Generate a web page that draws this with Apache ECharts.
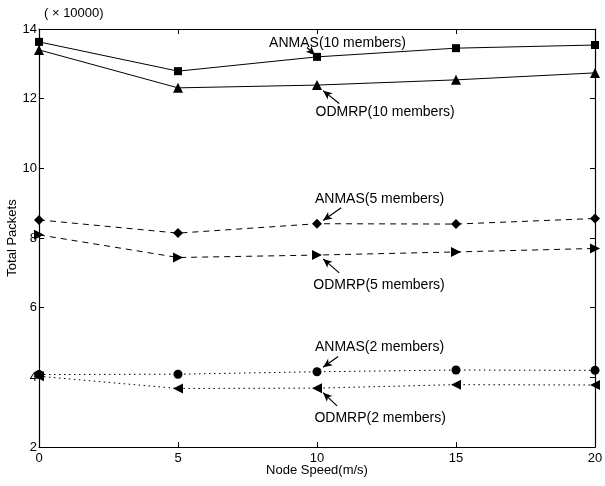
<!DOCTYPE html>
<html><head><meta charset="utf-8">
<script src="https://cdn.jsdelivr.net/npm/echarts@6/dist/echarts.min.js"></script>
<style>html,body{margin:0;padding:0;background:#fff}#c{width:605px;height:486px}</style>
</head><body><div id="c"></div>
<script>
const speeds = [0, 5, 10, 15, 20];
const anmas10 = [13.63, 12.79, 13.20, 13.45, 13.54];
const odmrp10 = [13.40, 12.31, 12.39, 12.54, 12.74];
const anmas5 = [8.52, 8.14, 8.41, 8.40, 8.56];
const odmrp5 = [8.09, 7.44, 7.51, 7.60, 7.70];
const anmas2 = [4.08, 4.09, 4.16, 4.21, 4.20];
const odmrp2 = [4.03, 3.68, 3.69, 3.79, 3.78];
const yTicks = [2, 4, 6, 8, 10, 12, 14];
const xTicks = [0, 5, 10, 15, 20];
// annotation label [text, x, y] and arrow [x1,y1,x2,y2] in data units
const notes = [
  ['ANMAS(10 members)', 10.74, 13.60, [9.64, 13.47, 9.93, 13.25]],
  ['ODMRP(10 members)', 12.45, 11.62, [10.80, 11.86, 10.22, 12.23]],
  ['ANMAS(5 members)', 12.25, 9.12, [10.87, 8.87, 10.22, 8.50]],
  ['ODMRP(5 members)', 12.23, 6.65, [10.80, 7.00, 10.22, 7.40]],
  ['ANMAS(2 members)', 12.25, 4.87, [10.76, 4.60, 10.22, 4.29]],
  ['ODMRP(2 members)', 12.27, 2.83, [10.72, 3.18, 10.22, 3.56]]
];
const FONT = 'Liberation Sans, Arial, sans-serif';
const chart = echarts.init(document.getElementById('c'));
function mk(name, vals, sym, rot, ltype, size) {
  return {
    name, type: 'line', data: speeds.map((s, i) => [s, vals[i]]),
    symbol: sym, symbolRotate: rot, symbolSize: size, showSymbol: true,
    itemStyle: { color: '#000' },
    lineStyle: { color: '#000', width: 1, type: ltype },
    z: 5, animation: false
  };
}
const axisCommon = {
  axisLine: { show: true, onZero: false, lineStyle: { color: '#000', width: 1.2 } },
  axisTick: { show: true, inside: true, length: 5, lineStyle: { color: '#000' } },
  splitLine: { show: false }
};
const option = {
  animation: false,
  backgroundColor: '#fff',
  textStyle: { fontFamily: FONT },
  grid: { left: 39, right: 10, top: 29, bottom: 39, containLabel: false, outerBoundsMode: 'none' },
  xAxis: [
    Object.assign({ type: 'value', min: 0, max: 20, interval: 5, position: 'bottom',
      name: 'Node Speed(m/s)', nameLocation: 'middle', nameGap: 17, nameMoveOverlap: false,
      nameTextStyle: { color: '#000', fontSize: 13, fontFamily: FONT },
      axisLabel: { color: '#000', fontSize: 13, margin: 5, fontFamily: FONT,
        formatter: v => xTicks.includes(v) ? String(v) : '' } }, axisCommon),
    Object.assign({ type: 'value', min: 0, max: 20, interval: 5, position: 'top',
      axisLabel: { show: false } }, axisCommon)
  ],
  yAxis: [
    Object.assign({ type: 'value', min: 2, max: 14, interval: 2, position: 'left',
      name: 'Total Packets', nameLocation: 'middle', nameGap: 20, nameRotate: 90, nameMoveOverlap: false,
      nameTextStyle: { color: '#000', fontSize: 13, fontFamily: FONT },
      axisLabel: { color: '#000', fontSize: 13, margin: 2, fontFamily: FONT,
        formatter: v => yTicks.includes(v) ? String(v) : '' } }, axisCommon),
    Object.assign({ type: 'value', min: 2, max: 14, interval: 2, position: 'right',
      axisLabel: { show: false } }, axisCommon)
  ],
  series: [
    mk('ANMAS(10 members)', anmas10, 'rect', 0, 'solid', 8),
    mk('ODMRP(10 members)', odmrp10, 'triangle', 0, 'solid', 10),
    mk('ANMAS(5 members)', anmas5, 'diamond', 0, [6, 5], 10),
    mk('ODMRP(5 members)', odmrp5, 'triangle', -90, [6, 5], 10),
    mk('ANMAS(2 members)', anmas2, 'circle', 0, [1.5, 3.5], 9),
    mk('ODMRP(2 members)', odmrp2, 'triangle', 90, [1.5, 3.5], 10),
    {
      type: 'line', data: [], silent: true,
      markLine: {
        silent: true, animation: false,
        symbol: ['none', 'arrow'], symbolSize: [6, 9],
        label: { show: false },
        lineStyle: { color: '#000', width: 1.2, type: 'solid' },
        data: notes.map(n => [{ coord: [n[3][0], n[3][1]] }, { coord: [n[3][2], n[3][3]] }])
      }
    }
  ]
};
chart.setOption(option);
const g = notes.map(n => {
  const p = chart.convertToPixel({ xAxisIndex: 0, yAxisIndex: 0 }, [n[1], n[2]]);
  return { type: 'text', x: p[0], y: p[1],
    style: { text: n[0], fill: '#000', font: '14px ' + FONT, textAlign: 'center', textVerticalAlign: 'middle' } };
});
g.push({ type: 'text', left: 44, top: 7,
  style: { text: '( \u00d7 10000)', fill: '#000', font: '13px ' + FONT } });
chart.setOption({ graphic: g });
</script></body></html>
